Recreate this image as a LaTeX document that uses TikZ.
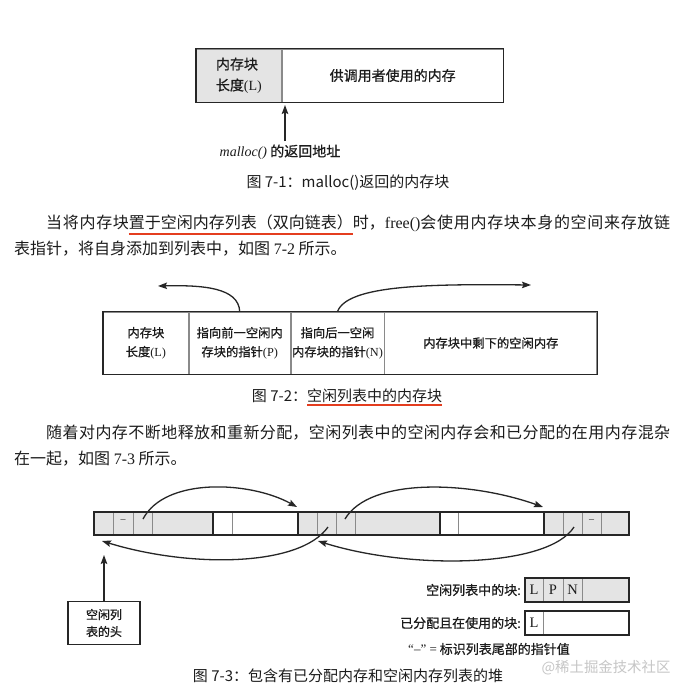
\documentclass[tikz,border=0pt]{standalone}
\usepackage{fontspec}
\usepackage{xcolor}
\setmainfont{Liberation Serif}
\newfontfamily\cjk{Noto Sans CJK SC}
\newfontfamily\cjkfig{Noto Sans CJK SC}[FakeBold=0.8]
\usetikzlibrary{
  arrows.meta,
  calc,
  positioning
}
\XeTeXlinebreaklocale "zh"
\XeTeXlinebreakskip=0pt plus 2pt

\definecolor{inkC}{HTML}{262626}
\definecolor{textC}{HTML}{1C1C1C}
\definecolor{cellC}{HTML}{E4E4E4}
\definecolor{ruleC}{HTML}{8A8A8A}
\definecolor{markC}{HTML}{E43D1F}
\definecolor{waterC}{HTML}{C6C6C6}

\newcommand\en[1]{{\rmfamily #1}}
\newcommand\redul[2][6.5pt]{\mbox{\sbox0{#2}\rlap{\color{markC}\rule[-#1]{\wd0}{1.8pt}}\usebox0}}

\begin{document}
\begin{tikzpicture}[
  x=1pt,
  y=-1pt,
  body/.style={anchor=base west, inner sep=0pt, text=textC,
    font=\cjk\fontsize{16}{20}\selectfont},
  caption/.style={anchor=base, inner sep=0pt, text=textC,
    font=\cjk\fontsize{15}{18}\selectfont},
  cellbox/.style={draw=ruleC, line width=0.8pt, inner sep=0pt, anchor=west,
    align=center, text=textC},
  cellB/.style={cellbox, minimum height=62pt,
    font=\cjkfig\fontsize{12.3}{19}\selectfont},
  outline/.style={draw=inkC, line width=1.3pt},
  ptr/.style={draw=inkC, line width=1.3pt,
    -{Stealth[length=9pt,width=6.5pt,inset=1.5pt]}},
  keytext/.style={inner sep=0pt, text=textC,
    font=\cjkfig\fontsize{13}{16}\selectfont},
  keychar/.style={inner sep=0pt, text=textC,
    font=\rmfamily\fontsize{14.5}{16}\selectfont}
]

% Page.
\fill[white] (0,0) rectangle (690,696);
\useasboundingbox (0,0) rectangle (690,696);

% Fig 7-1: block returned by malloc().
\node[cellbox, fill=cellC, minimum width=85pt, minimum height=53pt, align=left,
  font=\cjkfig\fontsize{14}{21}\selectfont] (lenA) at (196,75.5) {内存块\\长度\en{(L)}};
\node[cellbox, minimum width=221pt, minimum height=53pt,
  font=\cjkfig\fontsize{14}{18}\selectfont] (userA) at (lenA.east) {供调用者使用的内存};
\draw[outline] (lenA.north west) rectangle (userA.south east);

\coordinate (retTail) at (285,141);
\coordinate (retTip) at (285,105);
\draw[ptr] (retTail) -- (retTip);
\node[inner sep=0pt, text=textC, font=\cjkfig\fontsize{14}{18}\selectfont]
  (retLbl) at (280,152) {\en{\itshape malloc()} 的返回地址};
\node[caption] (capA) at (348,187) {图 7-1：malloc()返回的内存块};

% First paragraph.
\node[body, text width=624pt, align=justify] (parAa) at (46,228)
  {\parfillskip=0pt\noindent 当将内存块\redul{置于空闲内存列表（双向链表）}时，\en{free()}会使用内存块本身的空间来存放链\par};
\node[body] (parAb) at (14,254) {表指针，将自身添加到列表中，如图 \en{7-2} 所示。};

% Fig 7-2: block on the free list.
\node[cellB, minimum width=85pt] (lenB) at (103,343) {内存块\\长度\en{(L)}};
\node[cellB, minimum width=101pt] (prevB) at (lenB.east) {指向前一空闲内\\存块的指针\en{(P)}};
\node[cellB, minimum width=93pt] (nextB) at (prevB.east) {指向后一空闲\\内存块的指针\en{(N)}};
\node[cellB, minimum width=212pt] (restB) at (nextB.east) {内存块中剩下的空闲内存};
\draw[outline] (lenB.north west) rectangle (restB.south east);

\coordinate (prevEnd) at (158,286);
\coordinate (nextEnd) at (531,285);
\draw[ptr] (prevB.north) .. controls +(-1,-24) and +(45,-1) .. (prevEnd);
\draw[ptr] (nextB.north) .. controls +(10,-27) and +(-100,-1) .. (nextEnd);
\node[caption] (capB) at (347,401) {图 7-2：\redul[4.5pt]{空闲列表中的内存块}};

% Second paragraph.
\node[body, text width=624pt, align=justify] (parBa) at (46,438)
  {\parfillskip=0pt\noindent 随着对内存不断地释放和重新分配，空闲列表中的空闲内存会和已分配的在用内存混杂\par};
\node[body] (parBb) at (14,464) {在一起，如图 \en{7-3} 所示。};

% Fig 7-3: heap strip.
\foreach \xa/\xb/\fc in {94/113/cellC, 113/133/cellC, 133/152/cellC, 152/213/cellC,
  213/232/white, 232/298/white,
  298/317/cellC, 317/336/cellC, 336/355/cellC, 355/440/cellC,
  440/458/white, 458/544/white,
  544/563/cellC, 563/582/cellC, 582/601/cellC, 601/629/cellC}{
  \fill[\fc] (\xa,512) rectangle (\xb,535);
  \draw[ruleC, line width=0.8pt] (\xa,512) rectangle (\xb,535);
}
\foreach \x in {213,298,440,544}{
  \draw[inkC, line width=1.3pt] (\x,512) -- (\x,535);
}
\draw[outline] (94,512) rectangle (629,535);
\node[keychar, font=\rmfamily\fontsize{10}{12}\selectfont] (tailA) at (123,521) {–};
\node[keychar, font=\rmfamily\fontsize{10}{12}\selectfont] (tailB) at (591.5,521) {–};

% Links between the free blocks.
\coordinate (nA) at (143,519);
\coordinate (nB) at (345,519);
\coordinate (pB) at (328,527);
\coordinate (pC) at (574,527);
\coordinate (topB) at (297,507);
\coordinate (topC) at (543,507);
\coordinate (lowA) at (102,541);
\coordinate (lowB) at (318,541);
\draw[ptr] (nA) .. controls (165,477) and (250,481) .. (topB);
\draw[ptr] (nB) .. controls (370,477) and (470,481) .. (topC);
\draw[ptr] (pB) .. controls (300,567) and (190,568) .. (lowA);
\draw[ptr] (pC) .. controls (548,568) and (410,570) .. (lowB);

% Head of the list.
\node[draw=inkC, line width=1.2pt, minimum width=72pt, minimum height=43pt,
  inner sep=0pt, align=center, text=textC,
  font=\cjkfig\fontsize{12}{17}\selectfont] (head) at (104,623) {空闲列\\表的头};
\coordinate (headTip) at (104,555);
\draw[ptr] (head.north) -- (headTip);

% Legend.
\node[keytext, anchor=east] (keyFree) at (521,590) {空闲列表中的块:};
\fill[cellC] (525,578) rectangle (629,602);
\foreach \xa/\xb/\t in {525/543/L,543/563/P,563/582/N}{
  \draw[ruleC, line width=0.8pt] (\xa,578) rectangle (\xb,602);
  \node[keychar] (key\t) at ({(\xa+\xb)/2},590) {\t};
}
\draw[outline] (525,578) rectangle (629,602);

\node[keytext, anchor=east] (keyUsed) at (521,623) {已分配且在使用的块:};
\draw[ruleC, line width=0.8pt] (543,611) -- (543,635);
\node[keychar] (keyL) at (534,623) {L};
\draw[outline] (525,611) rectangle (629,635);
\node[keytext] (keyNote) at (489,649) {\en{“–” =} 标识列表尾部的指针值};

\node[caption] (capC) at (348,681.5) {图 7-3：包含有已分配内存和空闲内存列表的堆};
\node[inner sep=0pt, text=waterC, font=\cjk\fontsize{14.4}{16}\selectfont]
  (wmark) at (606,668) {@稀土掘金技术社区};

\end{tikzpicture}
\end{document}
